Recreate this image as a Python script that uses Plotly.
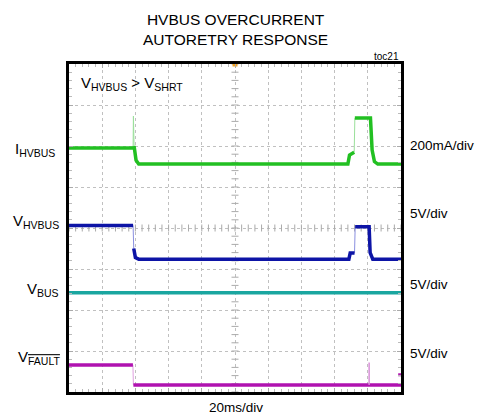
import numpy as np
import plotly.graph_objects as go

# scope traces, x in ms (20ms/div), y in screen divisions (0 = bottom, 8 = top)
t_ihvbus = [0, 38.6, 38.8, 39.2, 40.4, 42, 168, 169, 171.8, 172.2, 181.6, 182.6, 184, 186, 200]
y_ihvbus = [5.95, 5.95, 6.73, 6.0, 5.65, 5.56, 5.56, 5.78, 5.85, 6.68, 6.68, 5.9, 5.62, 5.56, 5.56]

t_vhvbus = [0, 38.6, 39.0, 40, 42, 168.6, 169.4, 172, 172.4, 180.8, 181.4, 183, 200]
y_vhvbus = [4.06, 4.06, 3.5, 3.28, 3.24, 3.24, 3.39, 3.39, 4.03, 4.03, 3.4, 3.24, 3.24]

t_vbus = [0, 200]
y_vbus = [2.42, 2.42]

t_vfault = [0, 38.5, 38.8, 200]
y_vfault = [0.66, 0.66, 0.17, 0.17]
t_fault_glitch = [180.8, 180.8]
y_fault_glitch = [0.17, 0.72]

channels = [
    (t_ihvbus, y_ihvbus, '#22c022', '#9be09b'),
    (t_vhvbus, y_vhvbus, '#0d14a6', '#8a8fe0'),
    (t_vbus, y_vbus, '#1aa6a0', '#8fd6d2'),
    (t_vfault, y_vfault, '#b012b0', '#e0a0e0'),
]

fig = go.Figure()

# center-line tick marks like a scope graticule
cx = np.arange(0, 200.01, 4)
cy = np.arange(0, 8.01, 0.2)
fig.add_trace(go.Scatter(x=cx, y=[4] * len(cx), mode='markers',
                         marker=dict(symbol='line-ns-open', size=5, color='#aaaaaa', line_width=1),
                         hoverinfo='skip', showlegend=False))
fig.add_trace(go.Scatter(x=[100] * len(cy), y=cy, mode='markers',
                         marker=dict(symbol='line-ew-open', size=5, color='#aaaaaa', line_width=1),
                         hoverinfo='skip', showlegend=False))

for t, y, col, light in channels:
    # fast edges drawn thin and light
    fig.add_trace(go.Scatter(x=t, y=y, mode='lines', line=dict(color=light, width=1),
                             hoverinfo='skip', showlegend=False))
    xs, ys = [t[0]], [y[0]]
    for i in range(1, len(t)):
        dx = t[i] - t[i - 1]
        if dx < 0.5 and abs(y[i] - y[i - 1]) > 0.3:
            xs.append(None)
            ys.append(None)
        xs.append(t[i])
        ys.append(y[i])
    fig.add_trace(go.Scatter(x=xs, y=ys, mode='lines', line=dict(color=col, width=3.5),
                             connectgaps=False, showlegend=False))

fig.add_trace(go.Scatter(x=t_fault_glitch, y=y_fault_glitch, mode='lines',
                         line=dict(color='#d890d8', width=1.5), showlegend=False))
fig.add_trace(go.Scatter(x=[199.2], y=[0.42], mode='markers',
                         marker=dict(color='#b012b0', size=3, symbol='square'), showlegend=False))

# trigger marker
fig.add_trace(go.Scatter(x=[100], y=[8], mode='markers', cliponaxis=False,
                         marker=dict(color='#f0a020', size=5, symbol='square'), showlegend=False))

font = 'Liberation Sans, Arial, sans-serif'

fig.update_xaxes(range=[0, 200], dtick=20, showgrid=True, gridcolor='#c0c0c0', griddash='dot',
                 gridwidth=1, zeroline=False, showticklabels=False,
                 showline=True, linecolor='black', linewidth=3, mirror='ticks',
                 ticks='inside', ticklen=4, tickcolor='#aaaaaa',
                 minor=dict(dtick=4, ticks='inside', ticklen=3, tickcolor='#bbbbbb'))
fig.update_yaxes(range=[0, 8], dtick=1, showgrid=True, gridcolor='#c0c0c0', griddash='dot',
                 gridwidth=1, zeroline=False, showticklabels=False,
                 showline=True, linecolor='black', linewidth=3, mirror='ticks',
                 ticks='inside', ticklen=4, tickcolor='#aaaaaa',
                 minor=dict(dtick=0.2, ticks='inside', ticklen=3, tickcolor='#bbbbbb'))

# page body has an 8px margin, so the figure is sized/offset to match
fig.update_layout(
    width=479, height=408,
    margin=dict(l=61, r=86, t=56, b=24),
    plot_bgcolor='white', paper_bgcolor='white',
    font=dict(family=font, color='black', size=13),
)

ann = [
    dict(text='HVBUS OVERCURRENT<br>AUTORETRY RESPONSE', x=0.502, y=1.0,
         yshift=14, yanchor='bottom', font=dict(size=15.5), xanchor='center'),
    dict(text='toc21', x=1.0, y=1.0, xanchor='right', yanchor='bottom', font=dict(size=10)),
    dict(text='V<sub>HVBUS</sub> > V<sub>SHRT</sub>', x=0.03, y=0.94,
         xanchor='left', font=dict(size=15)),
    dict(text='I<sub>HVBUS</sub>', x=-0.036, y=0.74, xanchor='right'),
    dict(text='V<sub>HVBUS</sub>', x=-0.024, y=0.52, xanchor='right'),
    dict(text='V<sub>BUS</sub>', x=-0.024, y=0.311, xanchor='right'),
    dict(text='V<sub><span style="text-decoration:overline">FAULT</span></sub>', x=-0.021, y=0.104,
         xanchor='right'),
    dict(text='200mA/div', x=1.021, y=0.753, xanchor='left', font=dict(size=13.5)),
    dict(text='5V/div', x=1.021, y=0.543, xanchor='left', font=dict(size=13.5)),
    dict(text='5V/div', x=1.021, y=0.329, xanchor='left', font=dict(size=13.5)),
    dict(text='5V/div', x=1.021, y=0.116, xanchor='left', font=dict(size=13.5)),
    dict(text='20ms/div', x=0.502, y=0, yshift=-15, xanchor='center', font=dict(size=13.5)),
]
for a in ann:
    a.setdefault('xref', 'paper')
    a.setdefault('yref', 'paper')
    a.setdefault('yanchor', 'middle')
    a.setdefault('font', dict(size=15))
    fig.add_annotation(showarrow=False, **a)

fig.write_html("out.html")
